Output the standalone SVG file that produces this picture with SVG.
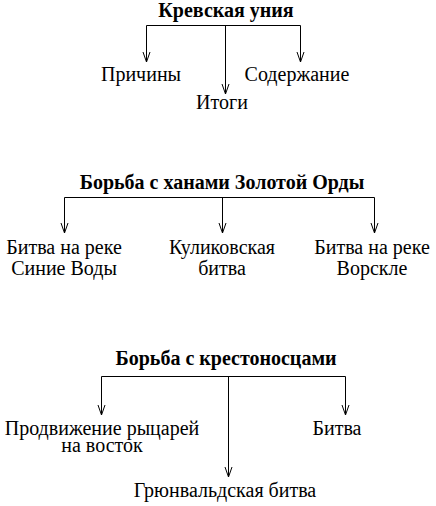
<svg xmlns="http://www.w3.org/2000/svg" width="436" height="506" viewBox="0 0 436 506" xml:lang="ru">
<defs>
<marker id="a" markerWidth="12" markerHeight="12" refX="10" refY="6" orient="auto" markerUnits="userSpaceOnUse" viewBox="0 0 12 12">
<path d="M0,2.5 L10,6 L0,9.5" fill="none" stroke="#000" stroke-width="1"/>
</marker>
</defs>
<rect width="436" height="506" fill="#fff"/>
<g id="connectors" fill="none" stroke="#000" stroke-width="1">
<path d="M146.5,25.5 H300.5"/>
<path d="M146.5,25.5 V62" marker-end="url(#a)"/>
<path d="M225.5,25.5 V94" marker-end="url(#a)"/>
<path d="M300.5,25.5 V62" marker-end="url(#a)"/>
<path d="M64.5,197.5 H374.5"/>
<path d="M64.5,197.5 V233" marker-end="url(#a)"/>
<path d="M222.5,197.5 V233" marker-end="url(#a)"/>
<path d="M374.5,197.5 V233" marker-end="url(#a)"/>
<path d="M101.5,376.5 H345.5"/>
<path d="M101.5,376.5 V415" marker-end="url(#a)"/>
<path d="M228.5,376.5 V477" marker-end="url(#a)"/>
<path d="M345.5,376.5 V415" marker-end="url(#a)"/>
</g>
<g font-family="'Liberation Serif', 'Times New Roman', serif" font-size="20" text-anchor="middle" fill="#000">
<g id="n1"><text x="226" y="17" font-weight="bold">Кревская уния</text></g>
<g id="n2"><text x="141" y="81">Причины</text></g>
<g id="n3"><text x="222" y="109">Итоги</text></g>
<g id="n4"><text x="297" y="81">Содержание</text></g>
<g id="n5"><text x="222" y="189" font-weight="bold">Борьба с ханами Золотой Орды</text></g>
<g id="n6"><text x="64" y="254">Битва на реке</text><text x="64" y="275">Синие Воды</text></g>
<g id="n7"><text x="222" y="254">Куликовская</text><text x="222" y="275">битва</text></g>
<g id="n8"><text x="372" y="254">Битва на реке</text><text x="372" y="275">Ворскле</text></g>
<g id="n9"><text x="226" y="365" font-weight="bold">Борьба с крестоносцами</text></g>
<g id="n10"><text x="102" y="435">Продвижение рыцарей</text><text x="102" y="452">на восток</text></g>
<g id="n11"><text x="337" y="435">Битва</text></g>
<g id="n12"><text x="225" y="497">Грюнвальдская битва</text></g>
</g>
</svg>
